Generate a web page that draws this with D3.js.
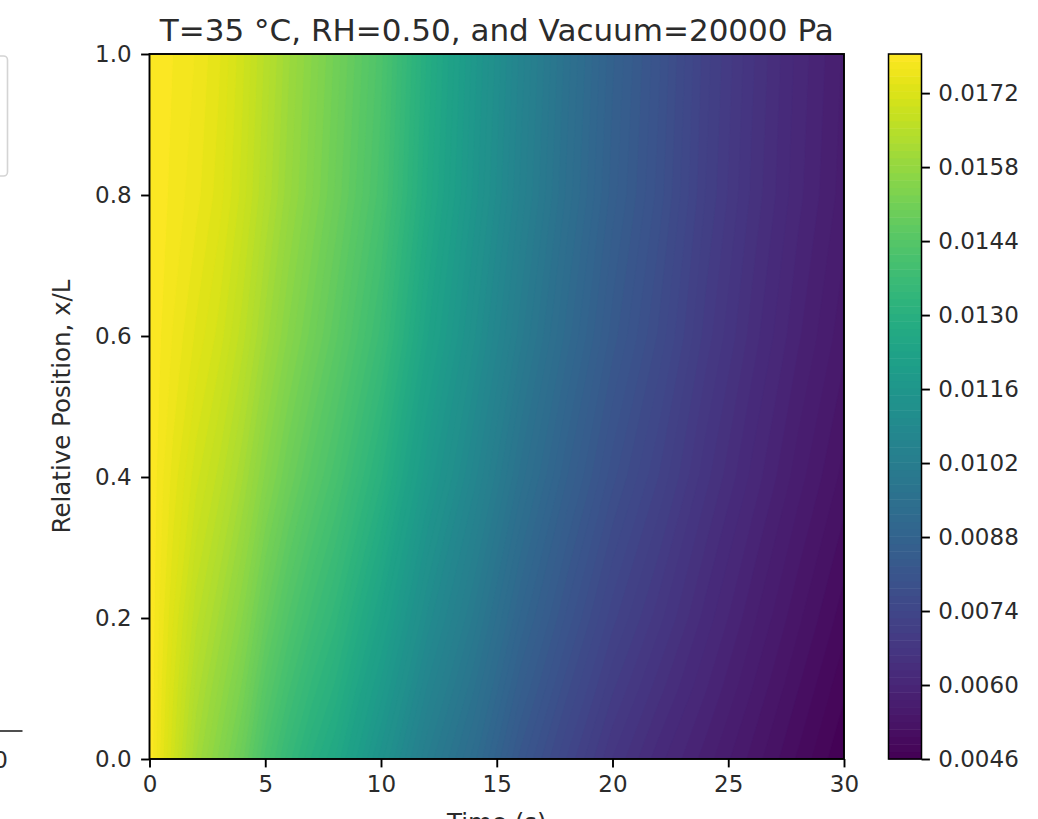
<!DOCTYPE html>
<html>
<head>
<meta charset="utf-8">
<script src="https://cdn.jsdelivr.net/npm/d3@7"></script>
<style>
  body { margin: 0; background: #ffffff; }
  svg { display: block; }
  text { font-family: "DejaVu Sans", sans-serif; fill: #2b2b2b; }
</style>
</head>
<body>
<svg id="chart" width="1038" height="819"></svg>
<script>
// Sample times (s) and relative positions x/L of the moisture field
const times = [0, 1, 2, 3, 4, 5, 6, 7, 8, 10, 12, 14, 16, 18, 20, 22, 24, 26, 28, 30];
const positions = [0, 0.1, 0.2, 0.4, 0.6, 0.8, 1.0];

// Moisture values along time, one array per relative position
const moistureX00 = [0.01794, 0.01700, 0.01610, 0.01550, 0.01490, 0.01410, 0.01350, 0.01300, 0.01260, 0.01140, 0.01020, 0.00930, 0.00820, 0.00740, 0.00670, 0.00620, 0.00580, 0.00540, 0.00500, 0.00460];
const moistureX01 = [0.01794, 0.01712, 0.01634, 0.01580, 0.01523, 0.01447, 0.01389, 0.01340, 0.01299, 0.01184, 0.01061, 0.00967, 0.00857, 0.00774, 0.00701, 0.00648, 0.00602, 0.00559, 0.00517, 0.00477];
const moistureX02 = [0.01794, 0.01725, 0.01658, 0.01609, 0.01555, 0.01484, 0.01427, 0.01379, 0.01337, 0.01227, 0.01102, 0.01004, 0.00894, 0.00808, 0.00732, 0.00676, 0.00623, 0.00577, 0.00534, 0.00494];
const moistureX04 = [0.01794, 0.01747, 0.01701, 0.01662, 0.01613, 0.01551, 0.01497, 0.01450, 0.01407, 0.01305, 0.01176, 0.01071, 0.00961, 0.00869, 0.00788, 0.00726, 0.00662, 0.00611, 0.00565, 0.00525];
const moistureX06 = [0.01794, 0.01765, 0.01735, 0.01704, 0.01660, 0.01604, 0.01552, 0.01506, 0.01462, 0.01367, 0.01234, 0.01124, 0.01014, 0.00918, 0.00832, 0.00766, 0.00693, 0.00637, 0.00589, 0.00549];
const moistureX08 = [0.01794, 0.01776, 0.01757, 0.01731, 0.01690, 0.01638, 0.01588, 0.01543, 0.01498, 0.01406, 0.01272, 0.01158, 0.01048, 0.00949, 0.00860, 0.00791, 0.00713, 0.00654, 0.00605, 0.00565];
const moistureX10 = [0.01794, 0.01780, 0.01765, 0.01740, 0.01700, 0.01650, 0.01600, 0.01555, 0.01510, 0.01420, 0.01285, 0.01170, 0.01060, 0.00960, 0.00870, 0.00800, 0.00720, 0.00660, 0.00610, 0.00570];

// Tick values
const xTicks = [0, 5, 10, 15, 20, 25, 30];
const yTicks = [0.0, 0.2, 0.4, 0.6, 0.8, 1.0];
const colorTicks = [0.0046, 0.0060, 0.0074, 0.0088, 0.0102, 0.0116, 0.0130, 0.0144, 0.0158, 0.0172];

// Contour level range
const levelMin = 0.0046;
const levelMax = 0.01794;
const bandCount = 95;

const titleText = "T=35 \u00b0C, RH=0.50, and Vacuum=20000 Pa";
const xLabel = "Time (s)";
const yLabel = "Relative Position, x/L";

// ---------------------------------------------------------------------------
const svg = d3.select("#chart");
const plot = { left: 149.5, right: 844, top: 54, bottom: 759 };
const cbar = { left: 888.5, right: 921.5, top: 54, bottom: 759 };
const tickFont = 23;
const tickLen = 8.4;
const lineW = 1.9;

const x = d3.scaleLinear().domain([0, 30]).range([plot.left, plot.right]);
const y = d3.scaleLinear().domain([0, 1]).range([plot.bottom, plot.top]);
const c = d3.scaleLinear().domain([levelMin, levelMax]).range([cbar.bottom, cbar.top]);

const levels = d3.range(bandCount + 1).map(i => levelMin + (levelMax - levelMin) * i / bandCount);
const bandColor = i => d3.interpolateViridis((i + 0.5) / bandCount);

// Grid of samples, row 0 = x/L 0
const rows = [moistureX00, moistureX01, moistureX02, moistureX04, moistureX06, moistureX08, moistureX10];
const nx = times.length, ny = positions.length;
const grid = rows.flat();

// Grid-index space -> data space (samples sit at index + 0.5)
const tAt = d3.scaleLinear().domain(times.map((_, i) => i + 0.5)).range(times).clamp(true);
const pAt = d3.scaleLinear().domain(positions.map((_, j) => j + 0.5)).range(positions).clamp(true);
const toScreen = d3.geoTransform({
  point(gx, gy) { this.stream.point(x(tAt(gx)), y(pAt(gy))); }
});
const path = d3.geoPath(toScreen);

svg.append("defs").append("clipPath").attr("id", "plot-clip")
  .append("rect")
  .attr("x", plot.left).attr("y", plot.top)
  .attr("width", plot.right - plot.left).attr("height", plot.bottom - plot.top);

const field = svg.append("g").attr("clip-path", "url(#plot-clip)");
field.append("rect")
  .attr("x", plot.left).attr("y", plot.top)
  .attr("width", plot.right - plot.left).attr("height", plot.bottom - plot.top)
  .attr("fill", bandColor(0));

const contours = d3.contours().size([nx, ny]).thresholds(levels.slice(0, -1))(grid);
field.selectAll("path.band")
  .data(contours)
  .join("path")
  .attr("class", "band")
  .attr("d", path)
  .attr("fill", (d, i) => bandColor(i))
  .attr("stroke", (d, i) => bandColor(i))
  .attr("stroke-width", 0.6);

// Plot frame
svg.append("rect")
  .attr("x", plot.left).attr("y", plot.top)
  .attr("width", plot.right - plot.left).attr("height", plot.bottom - plot.top)
  .attr("fill", "none").attr("stroke", "#000").attr("stroke-width", lineW);

function styleAxis(g) {
  g.select(".domain").remove();
  g.selectAll(".tick line").attr("stroke", "#000").attr("stroke-width", lineW);
  g.selectAll(".tick text").attr("font-size", tickFont).attr("fill", "#2b2b2b")
    .attr("font-family", "DejaVu Sans, sans-serif");
}

svg.append("g")
  .attr("transform", `translate(0,${plot.bottom})`)
  .call(d3.axisBottom(x).tickValues(xTicks).tickSize(tickLen).tickPadding(8.4).tickFormat(d3.format("d")))
  .call(styleAxis);

svg.append("g")
  .attr("transform", `translate(${plot.left},0)`)
  .call(d3.axisLeft(y).tickValues(yTicks).tickSize(tickLen).tickPadding(9.5).tickFormat(d3.format(".1f")))
  .call(styleAxis);

// Colour bar
const cb = svg.append("g");
cb.selectAll("rect.cband")
  .data(d3.range(bandCount))
  .join("rect")
  .attr("class", "cband")
  .attr("x", cbar.left)
  .attr("width", cbar.right - cbar.left)
  .attr("y", i => c(levels[i + 1]))
  .attr("height", i => c(levels[i]) - c(levels[i + 1]) + 0.5)
  .attr("fill", i => bandColor(i));
cb.append("rect")
  .attr("x", cbar.left).attr("y", cbar.top)
  .attr("width", cbar.right - cbar.left).attr("height", cbar.bottom - cbar.top)
  .attr("fill", "none").attr("stroke", "#000").attr("stroke-width", lineW * 0.8);

svg.append("g")
  .attr("transform", `translate(${cbar.right},0)`)
  .call(d3.axisRight(c).tickValues(colorTicks).tickSize(tickLen).tickPadding(8.4).tickFormat(d3.format(".4f")))
  .call(styleAxis);

// Titles
svg.append("text")
  .attr("x", (plot.left + plot.right) / 2).attr("y", 41)
  .attr("text-anchor", "middle").attr("font-size", 31)
  .text(titleText);

svg.append("text")
  .attr("transform", `translate(70,${(plot.top + plot.bottom) / 2}) rotate(-90)`)
  .attr("text-anchor", "middle").attr("font-size", 24.5)
  .text(yLabel);

svg.append("text")
  .attr("x", (plot.left + plot.right) / 2).attr("y", 831)
  .attr("text-anchor", "middle").attr("font-size", 24.5)
  .text(xLabel);

// Edge of the neighbouring panel on the left
const side = svg.append("g");
side.append("rect")
  .attr("x", -120).attr("y", 56).attr("width", 127.5).attr("height", 120)
  .attr("rx", 4).attr("fill", "#fff").attr("stroke", "#d4d4d4").attr("stroke-width", 1.6);
side.append("line")
  .attr("x1", 0).attr("x2", 22.5).attr("y1", 731).attr("y2", 731)
  .attr("stroke", "#222").attr("stroke-width", 1.6);
side.append("text")
  .attr("x", 8).attr("y", 768).attr("text-anchor", "end").attr("font-size", tickFont)
  .text("0");
</script>
</body>
</html>
